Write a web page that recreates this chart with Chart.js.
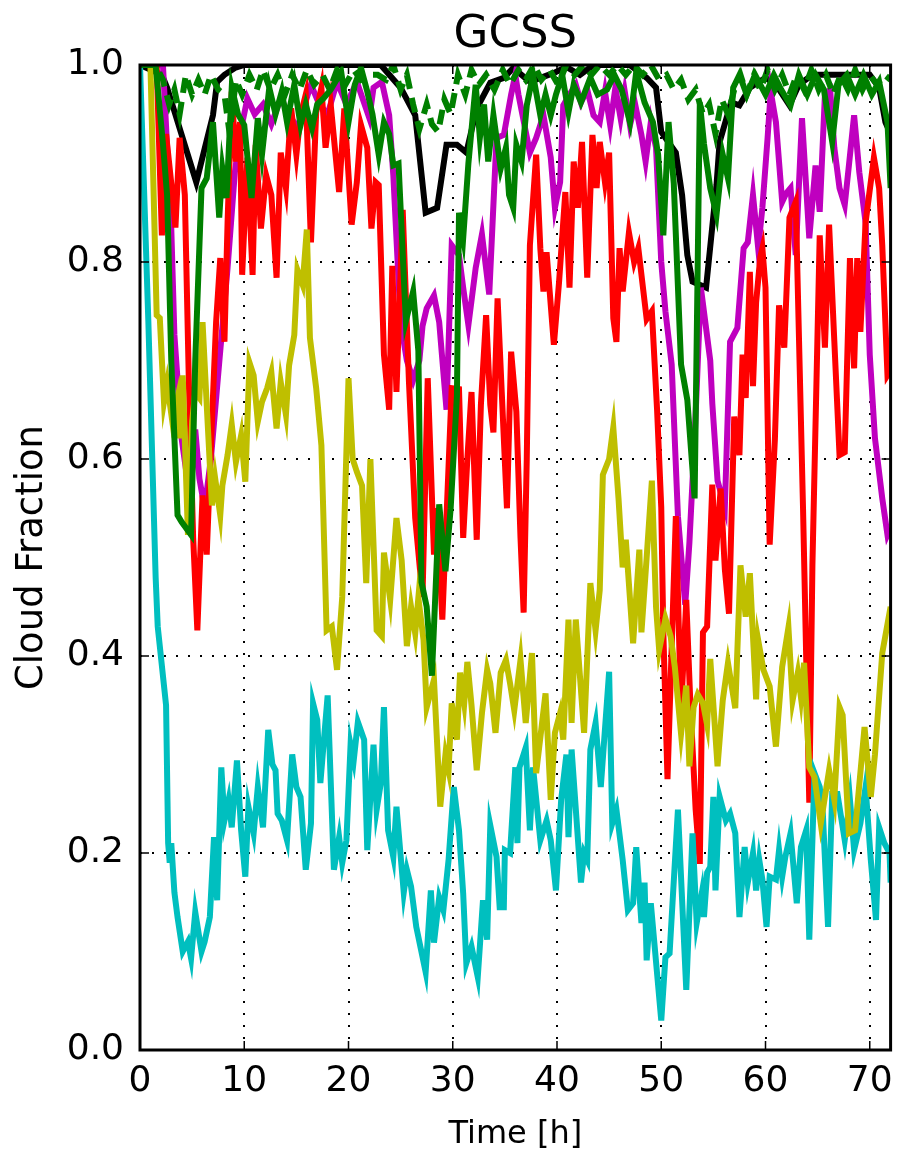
<!DOCTYPE html>
<html>
<head>
<meta charset="utf-8">
<title>GCSS</title>
<script src="https://cdn.jsdelivr.net/npm/chart.js@4/dist/chart.umd.min.js"></script>
<style>
  html, body { margin: 0; padding: 0; background: #fff; }
  canvas { display: block; }
</style>
</head>
<body>
<canvas id="cloudChart" width="903" height="1154"></canvas>
<script>
// [hour, cloud fraction] samples for each run
const blackRun = [[0,1.0],[2.1,0.99],[2.6,0.977],[5.4,0.881],[7.0,0.949],[7.4,0.983],[8.1,0.99],[9.1,0.997],[10,1.0],[23.1,1.0],[25.0,0.977],[26.4,0.949],[27.4,0.85],[28.5,0.855],[29.4,0.919],[30.4,0.919],[31.3,0.911],[32.3,0.956],[33.6,0.982],[34.9,0.987],[35.8,0.997],[37.4,0.983],[39.7,0.992],[40.9,0.998],[42.2,0.99],[43.5,1.0],[47.0,1.0],[48.6,0.987],[49.5,0.977],[50.0,0.932],[51.4,0.911],[52.0,0.868],[52.5,0.807],[53.0,0.78],[54.3,0.774],[55.3,0.878],[55.6,0.922],[56.7,0.962],[57.5,0.959],[58.5,0.977],[60.0,0.987],[61.0,0.98],[62.3,0.959],[63.2,0.98],[64.5,0.99],[66.7,0.99],[70.0,0.99],[70.9,0.977],[71.5,0.942],[72,0.93]];

const magentaRun = [[0,1.0],[2.2,1.0],[3.0,0.834],[3.3,0.726],[4.0,0.62],[4.8,0.56],[5.3,0.63],[5.7,0.58],[6.2,0.55],[6.8,0.60],[7.6,0.698],[8.4,0.794],[9.1,0.891],[9.6,0.93],[10.3,0.966],[11.0,0.95],[11.8,0.96],[12.6,0.94],[13.5,0.966],[14.3,0.95],[15.1,0.936],[15.8,0.96],[16.4,0.98],[17.2,0.96],[18.0,0.95],[18.9,0.983],[19.8,0.96],[20.8,0.983],[22.0,0.946],[22.4,0.977],[23.2,0.983],[23.9,0.949],[24.3,0.888],[25.0,0.739],[25.6,0.70],[26.2,0.68],[26.8,0.70],[27.1,0.735],[27.5,0.753],[28.2,0.766],[28.7,0.739],[29.4,0.65],[29.9,0.817],[30.6,0.807],[31.0,0.774],[31.5,0.736],[32.2,0.794],[32.8,0.828],[33.5,0.767],[34.2,0.926],[34.9,0.929],[35.6,0.97],[36.0,0.99],[36.3,0.97],[37.4,0.911],[38.0,0.926],[38.7,0.949],[39.4,0.906],[39.8,0.855],[40.3,0.881],[40.6,0.959],[41.2,0.97],[41.8,0.98],[42.3,0.962],[42.9,0.975],[43.5,0.949],[44.1,0.942],[44.6,0.973],[45.1,0.939],[45.6,0.977],[46.1,0.946],[46.5,0.973],[47.0,0.939],[47.5,0.96],[48.1,0.929],[48.5,0.902],[49.0,0.942],[49.5,0.916],[50.0,0.8],[50.4,0.75],[51.0,0.696],[51.6,0.542],[52.3,0.452],[52.7,0.515],[53.2,0.62],[53.8,0.774],[54.7,0.70],[54.9,0.656],[55.4,0.578],[56.1,0.551],[56.6,0.719],[57.3,0.733],[57.9,0.814],[58.3,0.82],[58.8,0.868],[59.3,0.814],[59.7,0.855],[60.2,0.926],[60.5,0.973],[61.0,0.942],[61.6,0.861],[62.0,0.87],[62.4,0.875],[62.9,0.807],[63.5,0.946],[64.2,0.824],[64.8,0.898],[65.2,0.851],[65.7,0.97],[66.2,0.975],[66.6,0.916],[67.1,0.875],[67.6,0.858],[68.0,0.898],[68.5,0.949],[69.0,0.891],[69.6,0.84],[70.0,0.706],[70.5,0.621],[71.2,0.56],[71.7,0.523],[72,0.53]];

const redRun = [[0,1.0],[1.6,1.0],[2.1,0.827],[2.5,0.93],[3.0,0.88],[3.4,0.835],[3.8,0.926],[4.3,0.868],[4.7,0.672],[5.1,0.52],[5.5,0.426],[6.0,0.563],[6.4,0.503],[6.9,0.638],[7.3,0.739],[7.7,0.804],[8.1,0.719],[8.4,0.84],[8.8,0.973],[9.2,0.902],[9.6,0.942],[9.8,0.787],[10.3,0.906],[10.8,0.787],[11.1,0.919],[11.6,0.834],[12.1,0.888],[12.6,0.868],[13.1,0.784],[13.5,0.911],[14.0,0.875],[14.5,0.956],[15.0,0.909],[15.4,0.949],[15.9,0.97],[16.4,0.82],[16.9,0.952],[17.4,0.977],[17.8,0.916],[18.3,0.959],[19.1,0.871],[19.6,0.956],[20.3,0.838],[20.8,0.881],[21.2,0.939],[21.8,0.916],[22.2,0.834],[22.6,0.881],[22.9,0.878],[23.4,0.706],[23.9,0.65],[24.2,0.796],[24.6,0.668],[25.2,0.853],[25.8,0.678],[26.4,0.54],[27.1,0.46],[27.6,0.682],[28.2,0.503],[28.5,0.55],[29.0,0.437],[29.6,0.593],[29.9,0.672],[30.6,0.671],[31.0,0.52],[31.4,0.6],[31.8,0.668],[32.3,0.518],[32.7,0.655],[33.2,0.746],[33.6,0.655],[33.9,0.627],[34.3,0.763],[34.7,0.668],[35.2,0.55],[35.6,0.709],[36.1,0.648],[36.5,0.52],[36.8,0.444],[37.1,0.6],[37.4,0.817],[38.0,0.909],[38.4,0.814],[38.7,0.77],[39.0,0.81],[39.7,0.716],[40.2,0.78],[40.8,0.871],[41.2,0.774],[41.6,0.902],[42.0,0.855],[42.4,0.922],[42.9,0.784],[43.4,0.929],[43.8,0.875],[44.1,0.922],[44.6,0.881],[45.0,0.911],[45.4,0.743],[45.7,0.719],[46.0,0.814],[46.3,0.77],[46.9,0.83],[47.4,0.80],[47.8,0.814],[48.6,0.742],[49.1,0.75],[49.6,0.65],[50.0,0.551],[50.2,0.424],[50.6,0.275],[51.4,0.542],[51.9,0.343],[52.4,0.457],[52.8,0.35],[53.3,0.244],[53.7,0.189],[54.0,0.424],[54.4,0.43],[54.9,0.574],[55.2,0.497],[55.7,0.57],[56.1,0.488],[56.5,0.443],[57.0,0.643],[57.5,0.604],[57.8,0.706],[58.1,0.662],[58.5,0.79],[58.8,0.674],[59.1,0.759],[59.5,0.805],[59.7,0.814],[60.0,0.774],[60.4,0.513],[60.9,0.62],[61.3,0.756],[61.8,0.713],[62.3,0.845],[62.9,0.861],[63.6,0.55],[64.2,0.251],[64.5,0.492],[65.2,0.827],[65.7,0.713],[66.1,0.838],[66.6,0.72],[67.1,0.604],[67.6,0.607],[68.1,0.804],[68.5,0.692],[68.8,0.804],[69.1,0.729],[69.6,0.84],[70.4,0.906],[70.9,0.875],[71.2,0.817],[71.7,0.685],[72,0.69]];

const greenRun = [[0,1.0],[1.5,1.0],[2.2,0.92],[2.6,0.868],[3.0,0.70],[3.6,0.543],[4.0,0.536],[4.9,0.523],[5.3,0.70],[5.9,0.875],[6.4,0.885],[7.0,0.942],[7.6,0.845],[7.9,0.895],[8.3,0.865],[8.8,0.977],[9.4,0.95],[10.0,0.939],[10.7,0.865],[11.3,0.946],[11.7,0.909],[12.4,0.977],[13.0,0.95],[13.6,0.973],[14.1,0.942],[14.8,0.98],[15.4,0.939],[15.9,0.96],[16.5,0.936],[17.0,0.96],[17.6,0.966],[18.3,0.975],[19.3,0.993],[20.0,0.942],[20.6,0.98],[21.2,0.997],[21.8,0.973],[22.3,0.95],[22.9,0.909],[23.4,0.942],[23.9,0.93],[24.3,0.898],[24.8,0.9],[25.5,0.74],[26.2,0.77],[26.7,0.71],[27.0,0.475],[27.5,0.45],[28.0,0.38],[28.7,0.554],[29.3,0.486],[29.8,0.55],[30.4,0.664],[30.6,0.85],[31.0,0.824],[31.5,0.9],[32.2,0.98],[32.6,0.926],[33.0,0.96],[33.4,0.902],[33.9,0.949],[34.6,0.895],[35.1,0.916],[35.4,0.868],[35.8,0.855],[36.1,0.919],[36.6,0.902],[37.1,0.959],[37.7,0.99],[38.4,0.949],[38.9,0.97],[39.4,0.949],[39.9,0.97],[40.5,0.99],[41.1,0.952],[41.6,0.98],[42.3,0.962],[43.2,0.987],[43.9,0.97],[44.8,0.975],[45.5,0.99],[46.2,0.975],[47.0,0.942],[47.6,0.993],[48.4,0.962],[49.2,0.942],[49.7,0.909],[50.2,0.827],[50.7,0.942],[51.2,0.88],[51.9,0.696],[52.5,0.66],[53.2,0.56],[53.5,0.8],[53.7,0.962],[54.1,0.92],[54.7,0.875],[55.3,0.848],[55.9,0.909],[56.4,0.885],[56.9,0.977],[57.5,0.99],[58.2,0.97],[59.0,0.99],[60.0,0.97],[60.8,0.99],[61.5,0.975],[62.4,0.959],[63.2,0.99],[64.0,0.97],[64.8,0.99],[65.6,0.975],[66.4,0.922],[67.0,0.98],[67.8,0.99],[68.6,0.97],[69.4,0.99],[70.2,0.97],[70.9,0.983],[71.7,0.942],[72,0.875]];

const greenDashedRun = [[0,1.0],[1.5,1.0],[2.2,0.985],[2.8,0.96],[3.3,0.975],[3.8,0.95],[4.4,0.99],[5.0,0.97],[5.6,0.985],[6.2,0.97],[6.8,0.99],[7.5,0.975],[8.1,0.97],[8.6,0.93],[9.2,0.985],[9.8,0.97],[10.5,0.99],[11.2,0.975],[11.8,0.995],[12.5,0.975],[13.2,0.99],[13.9,0.97],[14.6,0.99],[15.3,0.975],[16.0,0.995],[16.7,0.98],[17.5,0.99],[18.2,0.975],[18.9,0.995],[19.7,0.98],[20.5,0.995],[21.2,0.985],[22.0,0.99],[22.8,0.99],[23.6,0.985],[24.3,1.0],[25.0,0.975],[25.6,0.99],[26.2,0.96],[26.8,0.935],[27.5,0.96],[28.0,0.94],[28.6,0.932],[29.2,0.965],[29.8,0.95],[30.5,0.99],[31.2,0.97],[31.8,0.995],[32.5,0.98],[33.2,0.99],[34.0,0.975],[34.8,0.995],[35.5,0.98],[36.3,0.995],[37.0,0.985],[37.8,1.0],[38.5,0.985],[39.3,0.995],[40.1,0.98],[40.9,1.0],[41.7,0.99],[42.5,1.0],[43.3,0.99],[44.1,1.0],[45.0,0.99],[45.8,1.0],[46.6,0.99],[47.4,1.0],[48.2,0.99],[49.0,1.0],[49.8,0.985],[50.5,0.99],[51.2,0.975],[51.9,0.985],[52.6,0.965],[53.3,0.975],[54.0,0.95],[54.6,0.96],[55.2,0.93],[55.8,0.965],[56.4,0.95],[57.0,0.975],[57.6,0.99],[58.2,0.97],[58.9,0.99],[59.5,0.975],[60.2,0.995],[60.9,0.975],[61.6,0.99],[62.3,0.97],[63.0,0.99],[63.7,0.975],[64.4,0.995],[65.1,0.975],[65.8,0.99],[66.5,0.97],[67.2,0.99],[67.9,0.975],[68.6,0.995],[69.3,0.975],[70.0,0.99],[70.7,0.98],[71.4,0.99],[72,0.985]];

const yellowRun = [[0,1.0],[1.0,1.0],[1.6,0.746],[1.9,0.743],[2.3,0.658],[2.6,0.677],[3.1,0.638],[3.6,0.662],[3.8,0.621],[4.1,0.685],[4.6,0.523],[5.0,0.638],[5.3,0.668],[5.7,0.662],[6.0,0.739],[6.4,0.655],[6.9,0.553],[7.2,0.581],[7.7,0.543],[7.9,0.573],[8.4,0.604],[8.8,0.635],[9.2,0.597],[9.7,0.624],[10.1,0.577],[10.5,0.698],[10.9,0.685],[11.3,0.638],[11.7,0.658],[12.2,0.672],[12.6,0.688],[13.1,0.631],[13.5,0.678],[14.0,0.645],[14.3,0.695],[14.8,0.726],[15.1,0.792],[15.6,0.777],[16.0,0.833],[16.3,0.723],[16.9,0.672],[17.4,0.614],[17.9,0.426],[18.4,0.43],[18.9,0.386],[19.4,0.46],[20.0,0.682],[20.4,0.60],[20.8,0.587],[21.3,0.573],[21.7,0.474],[22.1,0.60],[22.7,0.426],[23.2,0.42],[23.4,0.505],[24.0,0.457],[24.6,0.54],[25.1,0.497],[25.6,0.41],[26.0,0.45],[26.4,0.423],[26.7,0.459],[27.2,0.416],[27.5,0.348],[28.2,0.376],[28.8,0.247],[29.3,0.30],[29.6,0.284],[29.9,0.352],[30.4,0.315],[30.7,0.383],[31.1,0.352],[31.4,0.394],[31.8,0.35],[32.3,0.284],[32.8,0.342],[33.3,0.386],[33.6,0.372],[34.1,0.322],[34.6,0.383],[35.1,0.396],[35.5,0.372],[35.9,0.345],[36.5,0.396],[37.0,0.332],[37.6,0.403],[38.0,0.281],[38.9,0.362],[39.4,0.254],[39.8,0.322],[40.3,0.342],[40.6,0.315],[41.1,0.437],[41.4,0.332],[41.8,0.437],[42.6,0.322],[43.2,0.474],[43.7,0.426],[44.1,0.467],[44.4,0.584],[45.0,0.60],[45.4,0.632],[45.9,0.56],[46.3,0.49],[46.6,0.518],[47.3,0.413],[47.9,0.508],[48.1,0.424],[48.6,0.5],[49.1,0.578],[49.5,0.45],[49.8,0.406],[50.4,0.438],[50.9,0.42],[51.3,0.389],[51.9,0.321],[52.4,0.37],[52.7,0.288],[53.1,0.348],[53.5,0.361],[54.0,0.352],[54.4,0.33],[54.7,0.397],[55.4,0.288],[55.9,0.355],[56.4,0.393],[57.1,0.347],[57.6,0.492],[58.1,0.44],[58.5,0.484],[59.1,0.356],[59.3,0.416],[59.8,0.386],[60.4,0.369],[61.0,0.308],[61.6,0.389],[62.2,0.429],[62.6,0.355],[63.1,0.383],[63.4,0.358],[63.7,0.393],[64.2,0.287],[64.7,0.277],[65.3,0.23],[66.1,0.284],[66.6,0.254],[67.1,0.348],[67.4,0.34],[68.0,0.22],[68.6,0.223],[69.5,0.328],[70.1,0.257],[70.5,0.30],[71.2,0.403],[72,0.45]];

const cyanRun = [[0,1.0],[0.8,0.74],[1.5,0.48],[1.7,0.43],[2.5,0.35],[2.7,0.21],[2.85,0.19],[3.0,0.21],[3.3,0.16],[3.6,0.135],[4.1,0.10],[4.6,0.11],[4.9,0.093],[5.3,0.14],[5.9,0.10],[6.2,0.11],[6.7,0.135],[7.1,0.216],[7.4,0.152],[7.8,0.287],[8.1,0.233],[8.5,0.254],[8.8,0.226],[9.3,0.294],[9.7,0.223],[10.1,0.176],[10.4,0.247],[10.9,0.22],[11.3,0.267],[11.8,0.226],[12.3,0.325],[12.7,0.29],[13.0,0.284],[13.2,0.24],[13.6,0.233],[14.1,0.213],[14.6,0.30],[15.0,0.267],[15.4,0.257],[15.9,0.183],[16.4,0.23],[16.6,0.352],[17.0,0.335],[17.3,0.271],[18.0,0.36],[18.6,0.183],[19.1,0.216],[19.4,0.19],[19.8,0.213],[20.2,0.31],[20.5,0.294],[20.9,0.333],[21.5,0.315],[21.8,0.203],[22.4,0.31],[22.7,0.244],[23.1,0.271],[23.4,0.348],[23.8,0.223],[24.3,0.196],[24.6,0.247],[25.3,0.16],[25.6,0.183],[26.0,0.166],[26.5,0.125],[27.4,0.079],[27.9,0.162],[28.2,0.109],[28.7,0.155],[29.1,0.142],[29.6,0.193],[30.1,0.267],[30.6,0.223],[31.0,0.159],[31.3,0.088],[31.8,0.105],[32.4,0.074],[32.9,0.152],[33.3,0.112],[33.6,0.228],[34.2,0.196],[34.5,0.145],[34.9,0.145],[35.0,0.203],[35.5,0.2],[36.0,0.287],[36.2,0.21],[36.4,0.287],[37.0,0.307],[37.4,0.223],[37.7,0.287],[38.4,0.213],[39.0,0.233],[39.4,0.213],[39.9,0.162],[40.4,0.254],[40.9,0.30],[41.1,0.216],[41.4,0.305],[42.3,0.17],[42.6,0.2],[42.9,0.193],[43.2,0.305],[43.7,0.332],[44.2,0.267],[45.0,0.384],[45.3,0.23],[45.7,0.244],[46.3,0.193],[46.8,0.142],[47.3,0.149],[47.6,0.206],[48.1,0.129],[48.4,0.17],[48.6,0.091],[49.0,0.149],[50.0,0.03],[50.4,0.094],[50.8,0.098],[51.6,0.244],[52.4,0.061],[53.0,0.22],[53.4,0.129],[53.9,0.16],[54.1,0.135],[54.4,0.18],[54.7,0.186],[55.0,0.257],[55.2,0.162],[55.6,0.257],[56.2,0.233],[56.6,0.24],[57.1,0.22],[57.5,0.135],[58.0,0.206],[58.3,0.17],[58.8,0.2],[59.1,0.162],[59.4,0.193],[59.7,0.173],[60.1,0.125],[60.4,0.176],[61.0,0.173],[61.3,0.203],[61.6,0.176],[61.9,0.196],[62.4,0.22],[63.0,0.149],[63.4,0.206],[63.9,0.223],[64.2,0.112],[64.7,0.281],[65.2,0.267],[65.5,0.24],[66.0,0.125],[66.4,0.26],[66.9,0.26],[67.6,0.213],[68.1,0.254],[68.5,0.203],[69.1,0.23],[69.6,0.267],[70.1,0.193],[70.6,0.132],[70.9,0.226],[71.4,0.21],[71.9,0.2],[72,0.17]];

const xTicks = [0, 10, 20, 30, 40, 50, 60, 70];
const yTicks = [0.0, 0.2, 0.4, 0.6, 0.8, 1.0];

const FONT = "'DejaVu Sans', sans-serif";

function toPoints(run) {
    return run.map(p => ({x: p[0], y: p[1]}));
}

function series(run, color, dash) {
    return {
        data: toPoints(run),
        borderColor: color,
        backgroundColor: color,
        borderWidth: 6,
        borderDash: dash || [],
        pointRadius: 0,
        tension: 0,
        fill: false,
        clip: 0
    };
}

// axes frame with inward tick marks on all four sides
const framePlugin = {
    id: 'frame',
    afterDatasetsDraw(chart) {
        const {ctx, chartArea: a, scales: {x, y}} = chart;
        ctx.save();
        ctx.strokeStyle = '#000';
        ctx.lineWidth = 1.5;
        ctx.beginPath();
        xTicks.forEach(v => {
            const px = x.getPixelForValue(v);
            ctx.moveTo(px, a.bottom); ctx.lineTo(px, a.bottom - 9);
            ctx.moveTo(px, a.top); ctx.lineTo(px, a.top + 9);
        });
        yTicks.forEach(v => {
            const py = y.getPixelForValue(v);
            ctx.moveTo(a.left, py); ctx.lineTo(a.left + 9, py);
            ctx.moveTo(a.right, py); ctx.lineTo(a.right - 9, py);
        });
        ctx.stroke();
        ctx.lineWidth = 3;
        ctx.strokeRect(a.left, a.top, a.right - a.left, a.bottom - a.top);
        ctx.restore();
    }
};

new Chart(document.getElementById('cloudChart'), {
    type: 'line',
    data: {
        datasets: [
            series(greenDashedRun, '#008000', [15, 9]),
            series(greenRun, '#008000'),
            series(yellowRun, '#bfbf00'),
            series(cyanRun, '#00bfbf'),
            series(redRun, '#ff0000'),
            series(magentaRun, '#bf00bf'),
            series(blackRun, '#000000')
        ]
    },
    options: {
        responsive: false,
        animation: false,
        events: [],
        layout: {padding: {left: 0, right: 10, top: 0, bottom: 0}},
        plugins: {
            legend: {display: false},
            tooltip: {enabled: false},
            title: {
                display: true,
                fullSize: false,
                text: 'GCSS',
                color: '#000',
                font: {family: FONT, size: 45, weight: 'normal', lineHeight: 1},
                padding: {top: 13, bottom: 7}
            }
        },
        scales: {
            x: {
                type: 'linear',
                min: 0,
                max: 72,
                afterBuildTicks: s => { s.ticks = xTicks.map(v => ({value: v})); },
                ticks: {
                    color: '#000',
                    font: {family: FONT, size: 36},
                    padding: 10,
                    maxRotation: 0,
                    autoSkip: false
                },
                grid: {color: '#000', lineWidth: 2, drawTicks: false},
                border: {display: false, dash: [2, 10]},
                title: {
                    display: true,
                    text: 'Time [h]',
                    color: '#000',
                    font: {family: FONT, size: 32},
                    padding: {top: 0, bottom: 0}
                },
                afterFit: s => { s.height = 104; }
            },
            y: {
                min: 0,
                max: 1,
                afterBuildTicks: s => { s.ticks = yTicks.map(v => ({value: v})); },
                ticks: {
                    color: '#000',
                    font: {family: FONT, size: 36},
                    padding: 16,
                    callback: v => Number(v).toFixed(1)
                },
                grid: {color: '#000', lineWidth: 2, drawTicks: false},
                border: {display: false, dash: [2, 10]},
                title: {
                    display: true,
                    text: 'Cloud Fraction',
                    color: '#000',
                    font: {family: FONT, size: 37},
                    padding: {top: 10, bottom: 0}
                },
                afterFit: s => { s.width = 140; }
            }
        }
    },
    plugins: [framePlugin]
});
</script>
</body>
</html>
